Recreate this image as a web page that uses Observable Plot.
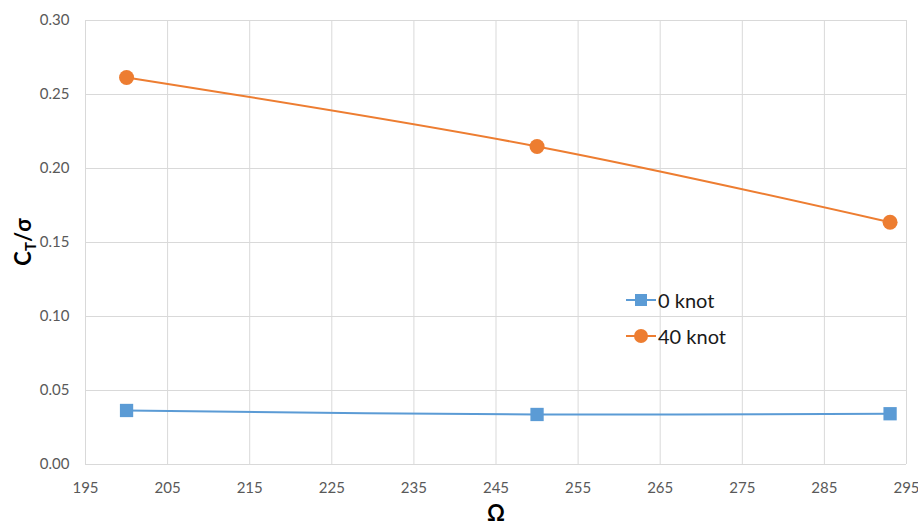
<!DOCTYPE html>
<html>
<head>
<meta charset="utf-8">
<script src="https://cdn.jsdelivr.net/npm/d3@7"></script>
<script src="https://cdn.jsdelivr.net/npm/@observablehq/plot@0.6"></script>
<style>
  html, body { margin: 0; padding: 0; background: #fff; }
  #wrap { position: relative; width: 918px; height: 528px; font-family: Lato, "Open Sans", sans-serif; }
  #legend { position: absolute; left: 626px; top: 282px; font-size: 20px; color: #1a1a1a; }
  .item { display: flex; align-items: center; height: 36px; }
  .item svg { margin-right: 2px; }
</style>
</head>
<body>
<div id="wrap"></div>
<script>
const omega = [200, 250, 293];
const knot0 = [0.0365, 0.0338, 0.0343];
const knot40 = [0.2615, 0.2149, 0.1637];
const seriesNames = ["0 knot", "40 knot"];
const seriesColors = ["#5B9BD5", "#ED7D31"];
const seriesSymbols = ["square", "circle"];
const xTicks = d3.range(195, 296, 10);
const yTicks = [0, 0.05, 0.10, 0.15, 0.20, 0.25, 0.30];

const data = [];
omega.forEach((o, i) => {
  data.push({omega: o, ct: knot0[i], series: seriesNames[0]});
  data.push({omega: o, ct: knot40[i], series: seriesNames[1]});
});

const chart = Plot.plot({
  width: 918,
  height: 528,
  marginLeft: 85,
  marginRight: 12,
  marginTop: 20,
  marginBottom: 64,
  style: {fontFamily: "Lato, 'Open Sans', sans-serif", fontSize: "15px", color: "#595959", background: "#fff", overflow: "visible"},
  x: {domain: [195, 295], ticks: xTicks, tickSize: 0, tickPadding: 18, label: null},
  y: {domain: [0, 0.30], ticks: yTicks, tickSize: 0, tickPadding: 16, tickFormat: d3.format(".2f"), label: null},
  color: {domain: seriesNames, range: seriesColors},
  symbol: {domain: seriesNames, range: seriesSymbols},
  marks: [
    Plot.gridX(xTicks, {stroke: "#d9d9d9", strokeOpacity: 1, strokeWidth: 1}),
    Plot.gridY(yTicks, {stroke: "#d9d9d9", strokeOpacity: 1, strokeWidth: 1}),
    Plot.axisX({ticks: xTicks, tickSize: 0, tickPadding: 18, fill: "#595959", fontSize: 15}),
    Plot.axisY({ticks: yTicks, tickSize: 0, tickPadding: 16, tickFormat: d3.format(".2f"), fill: "#595959", fontSize: 15}),
    Plot.line(data, {x: "omega", y: "ct", z: "series", stroke: "series", strokeWidth: 2, curve: "catmull-rom"}),
    Plot.dot(data, {x: "omega", y: "ct", fill: "series", symbol: "series", r: 7.5, stroke: "none"})
  ]
});

const wrap = document.getElementById("wrap");
wrap.appendChild(chart);

const svg = d3.select(chart);
svg.append("text")
  .attr("x", 496).attr("y", 521)
  .attr("text-anchor", "middle")
  .attr("font-family", "Lato, 'Open Sans', sans-serif")
  .attr("font-size", 22).attr("font-weight", "bold").attr("fill", "#000")
  .text("Ω");

const yl = svg.append("text")
  .attr("transform", "translate(31,242) rotate(-90)")
  .attr("text-anchor", "middle")
  .attr("font-family", "Lato, 'Open Sans', sans-serif")
  .attr("font-size", 22).attr("font-weight", "bold").attr("fill", "#000");
yl.append("tspan").text("C");
yl.append("tspan").attr("font-size", 15).attr("dy", 5).text("T");
yl.append("tspan").attr("dy", -5).text("/σ");

// legend
const legend = document.createElement("div");
legend.id = "legend";
seriesNames.forEach((name, i) => {
  const item = document.createElement("div");
  item.className = "item";
  const s = d3.create("svg").attr("width", 30).attr("height", 16);
  s.append("line").attr("x1", 0).attr("x2", 30).attr("y1", 8).attr("y2", 8)
    .attr("stroke", seriesColors[i]).attr("stroke-width", 2);
  if (seriesSymbols[i] === "square") {
    s.append("rect").attr("x", 9).attr("y", 2).attr("width", 12).attr("height", 12).attr("fill", seriesColors[i]);
  } else {
    s.append("circle").attr("cx", 15).attr("cy", 8).attr("r", 7).attr("fill", seriesColors[i]);
  }
  item.appendChild(s.node());
  const t = document.createElement("span");
  t.textContent = name;
  item.appendChild(t);
  legend.appendChild(item);
});
wrap.appendChild(legend);
</script>
</body>
</html>
